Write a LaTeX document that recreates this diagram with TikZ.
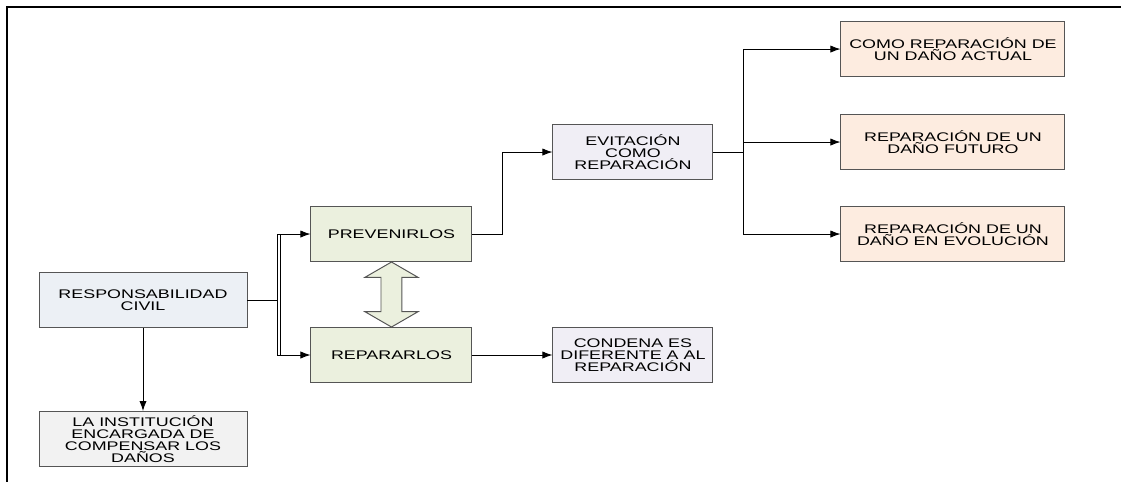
\documentclass[tikz,border=0pt]{standalone}
\usepackage{fontspec}
\setmainfont{Liberation Sans}[FakeStretch=1.43]
\usetikzlibrary{shapes.arrows, arrows.meta, positioning, calc}
\definecolor{boxblue}{RGB}{236, 240, 245}
\definecolor{boxgray}{RGB}{242, 242, 242}
\definecolor{boxgreen}{RGB}{235, 240, 222}
\definecolor{boxlilac}{RGB}{240, 238, 245}
\definecolor{boxpeach}{RGB}{253, 236, 224}
\definecolor{edgegray}{RGB}{85, 85, 85}

\begin{document}
\begin{tikzpicture}[
  box/.style={draw=edgegray, line width=0.7pt, minimum height=1.375cm, inner sep=1pt,
    font=\fontsize{8.9}{8.7}\selectfont, align=center},
  bluebox/.style={box, fill=boxblue, minimum width=5.2cm},
  graybox/.style={box, fill=boxgray, minimum width=5.2cm},
  greenbox/.style={box, fill=boxgreen, minimum width=4.025cm},
  lilacbox/.style={box, fill=boxlilac, minimum width=4cm},
  peachbox/.style={box, fill=boxpeach, minimum width=5.6cm},
  arrow/.style={-{Latex[length=2.5mm,width=1.8mm]}, line width=0.6pt},
  line/.style={line width=0.6pt}
]

% Frame
\useasboundingbox (0,0) rectangle (28.025,-12.025);
\draw[line width=1.6pt] (0.175,-12.2) -- (0.175,-0.17) -- (28.2,-0.17);

% Left column
\node[bluebox] (resp) at (3.575,-7.5) {RESPONSABILIDAD\\CIVIL};
\node[graybox, below=2.075cm of resp] (inst) {LA INSTITUCIÓN\\ENCARGADA DE\\COMPENSAR LOS\\DAÑOS};

% Middle
\node[greenbox, above right=0.25cm and 1.575cm of resp] (prev) {PREVENIRLOS};
\node[greenbox, below=1.625cm of prev] (rep) {REPARARLOS};
\node[lilacbox, right=2cm of rep] (cond) {CONDENA ES\\DIFERENTE A AL\\REPARACIÓN};
\node[lilacbox, above=3.675cm of cond] (evit) {EVITACIÓN\\COMO\\REPARACIÓN};

% Right column
\node[peachbox, right=9.2cm of prev] (evo) {REPARACIÓN DE UN\\DAÑO EN EVOLUCIÓN};
\node[peachbox, above=0.9cm of evo] (fut) {REPARACIÓN DE UN\\DAÑO FUTURO};
\node[peachbox, above=0.925cm of fut] (act) {COMO REPARACIÓN DE\\UN DAÑO ACTUAL};

% Link between prevenir and reparar
\node[double arrow, draw=edgegray, fill=boxgreen, line width=0.7pt, rotate=90,
  minimum height=1.625cm, inner xsep=0pt, inner ysep=0.25cm,
  double arrow head extend=0.4cm, double arrow tip angle=120]
  (link) at ($(prev.south)!0.5!(rep.north)$) {};

% Arrows
\draw[arrow] (resp) -- (inst);
\draw[line] (resp.east) -- ++(0.75,0) coordinate (split);
\coordinate (split2) at ([xshift=0.075cm]split);
\draw[arrow] (split) |- (prev.west);
\draw[arrow] (split) |- (rep.west);
\draw[line] (split2 |- prev.west) -- (split2 |- rep.west);
\draw[arrow] (prev.east) -- ++(0.75,0) |- (evit.west);
\draw[arrow] (rep) -- (cond);
\draw[line] (evit.east) -- ++(0.75,0) coordinate (fork);
\draw[arrow] (fork) |- (act.west);
\draw[arrow] (fork) |- (evo.west);
\draw[arrow] (fork |- fut.west) -- (fut.west);

\end{tikzpicture}
\end{document}
